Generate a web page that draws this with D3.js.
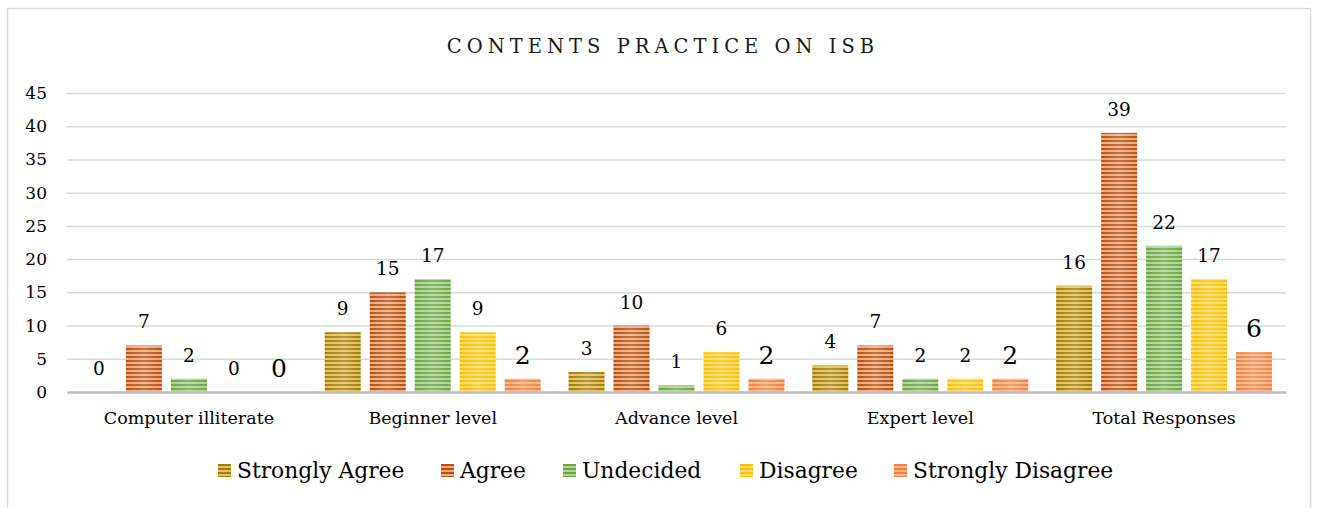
<!DOCTYPE html>
<html><head><meta charset="utf-8">
<script src="https://cdn.jsdelivr.net/npm/d3@7/dist/d3.min.js"></script>
<style>body{margin:0;background:#fff}svg{display:block}</style>
</head><body>
<svg id="c" width="1317" height="508"></svg>
<script>
const categories = ["Computer illiterate","Beginner level","Advance level","Expert level","Total Responses"];
const seriesNames = ["Strongly Agree","Agree","Undecided","Disagree","Strongly Disagree"];
const stronglyAgree = [0, 9, 3, 4, 16];
const agree = [7, 15, 10, 7, 39];
const undecided = [2, 17, 1, 2, 22];
const disagree = [0, 9, 6, 2, 17];
const stronglyDisagree = [0, 2, 2, 2, 6];
const yTicks = [0,5,10,15,20,25,30,35,40,45];
const seriesValues = [stronglyAgree, agree, undecided, disagree, stronglyDisagree];
const colorsDark = ["#a27d0e","#b5520f","#6da545","#ffc000","#f0843f"];
const colorsLight = ["#e4c258","#f0a880","#aed393","#ffdc6e","#f7b48c"];
const labelSizes = [18.5,18.5,18.5,18.5,25];

const svg = d3.select("#c");
const font = "'DejaVu Serif', serif";
const M = {left:67, right:1286, top:93, bottom:392};

svg.append("rect").attr("x",7.5).attr("y",8.5).attr("width",1303).attr("height",520)
  .attr("fill","#fff").attr("stroke","#d9d9d9").attr("stroke-width",1.5);

const defs = svg.append("defs");
seriesNames.forEach((s,i)=>{
  const p = defs.append("pattern").attr("id","p"+i).attr("patternUnits","userSpaceOnUse")
    .attr("width",8).attr("height",4);
  p.append("rect").attr("width",8).attr("height",4).attr("fill",colorsDark[i]);
  p.append("rect").attr("y",2).attr("width",8).attr("height",2).attr("fill",colorsLight[i]);
});
const g = defs.append("linearGradient").attr("id","shine").attr("x1","0").attr("x2","1").attr("y1","0").attr("y2","0");
g.append("stop").attr("offset","0").attr("stop-color","#fff").attr("stop-opacity",0);
g.append("stop").attr("offset","0.5").attr("stop-color","#fff").attr("stop-opacity",0.2);
g.append("stop").attr("offset","1").attr("stop-color","#fff").attr("stop-opacity",0);

const y = d3.scaleLinear().domain([0,45]).range([M.bottom, M.top]);
const x0 = d3.scaleBand().domain(categories).range([M.left, M.right]).padding(0);
const x1 = d3.scaleBand().domain(seriesNames).range([0, x0.bandwidth()]).paddingInner(0.2).paddingOuter(0.31);

// title
svg.append("text").attr("x",663).attr("y",53).attr("text-anchor","middle")
  .attr("font-family",font).attr("font-size",19.5).attr("letter-spacing","5px").attr("fill","#1a1a1a")
  .text("CONTENTS PRACTICE ON ISB");

// gridlines
const yAxis = d3.axisLeft(y).tickValues(yTicks).tickSize(-(M.right-M.left)).tickFormat(d3.format("d"));
const ya = svg.append("g").attr("transform",`translate(${M.left},0)`).call(yAxis);
ya.select(".domain").remove();
ya.selectAll(".tick line").attr("stroke","#d9d9d9").attr("stroke-width",1.5);
ya.selectAll(".tick text").attr("x",-20).attr("font-family",font).attr("font-size",17).attr("fill","#000");

// bars
const groups = svg.append("g").selectAll("g").data(categories).join("g")
  .attr("transform",d=>`translate(${x0(d)},0)`);
groups.each(function(cat, ci){
  const gg = d3.select(this);
  seriesNames.forEach((s,si)=>{
    const v = seriesValues[si][ci];
    const bx = x1(s), bw = x1.bandwidth();
    if (v>0){
      gg.append("rect").attr("x",bx).attr("y",y(v)).attr("width",bw).attr("height",y(0)-y(v))
        .attr("fill",`url(#p${si})`);
      gg.append("rect").attr("x",bx).attr("y",y(v)).attr("width",bw).attr("height",y(0)-y(v))
        .attr("fill","url(#shine)");
    }
    gg.append("text").attr("x",bx+bw/2).attr("y",y(v)-(si===4?15:17)).attr("text-anchor","middle")
      .attr("font-family",font).attr("font-size",labelSizes[si]).attr("fill","#000").text(v);
  });
});

// x axis line
const xAxis = d3.axisBottom(x0).tickSize(0);
const xa = svg.append("g").attr("transform",`translate(0,${M.bottom})`).call(xAxis);
xa.select(".domain").attr("stroke","#bfbfbf").attr("stroke-width",2.5);
xa.selectAll(".tick text").attr("y",20).attr("dy","0.71em").attr("font-family",font).attr("font-size",17.5).attr("fill","#000");

// legend
const legX = [218, 441, 563, 740, 894];
const leg = svg.append("g");
seriesNames.forEach((s,i)=>{
  leg.append("rect").attr("x",legX[i]).attr("y",464).attr("width",13).attr("height",13).attr("fill",`url(#p${i})`);
  leg.append("text").attr("x",legX[i]+19).attr("y",478).attr("font-family",font).attr("font-size",21.8).attr("fill","#000").text(s);
});
</script>
</body></html>
